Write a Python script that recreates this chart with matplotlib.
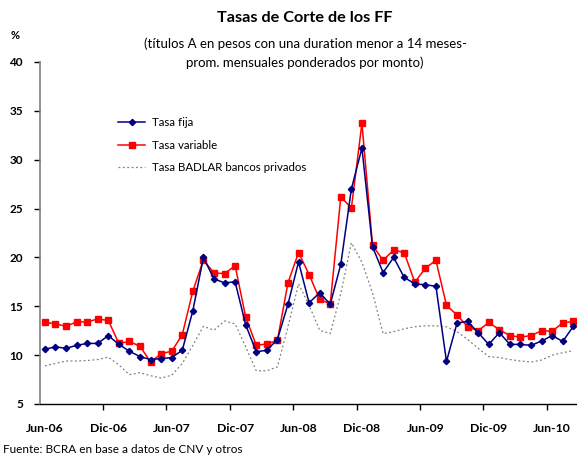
import numpy as np
import matplotlib.pyplot as plt

plt.rcParams['font.family'] = ['Lato', 'DejaVu Sans']

# meses Jun-06 .. Ago-10
tick_labels = ["Jun-06", "Dic-06", "Jun-07", "Dic-07", "Jun-08",
               "Dic-08", "Jun-09", "Dic-09", "Jun-10"]

tasa_fija = [10.6, 10.85, 10.7, 11.0, 11.2, 11.2, 12.0, 11.1, 10.4, 9.85,
             9.55, 9.65, 9.75, 10.5, 14.55, 20.0, 17.8, 17.4, 17.5, 13.1,
             10.35, 10.5, 11.6, 15.2, 19.55, 15.35, 16.4, 15.2, 19.3, 27.0,
             31.2, 21.1, 18.45, 20.0, 17.95, 17.3, 17.2, 17.05, 9.35, 13.3,
             13.45, 12.3, 11.1, 12.3, 11.1, 11.1, 11.0, 11.45, 12.0, 11.4,
             12.95]

tasa_variable = [13.35, 13.2, 12.95, 13.4, 13.4, 13.7, 13.55, 11.2, 11.4, 10.9,
                 9.3, 10.15, 10.4, 12.1, 16.55, 19.75, 18.4, 18.35, 19.15, 13.9,
                 11.0, 11.15, 11.5, 17.4, 20.5, 18.25, 15.7, 15.25, 26.2, 25.05,
                 33.75, 21.25, 19.7, 20.75, 20.5, 17.45, 18.9, 19.7, 15.1, 14.1,
                 12.9, 12.5, 13.35, 12.6, 12.0, 11.85, 12.0, 12.5, 12.45, 13.3,
                 13.45]

badlar = [8.9, 9.15, 9.4, 9.4, 9.45, 9.55, 9.8, 9.0, 8.0, 8.2,
          7.9, 7.65, 7.95, 9.15, 11.0, 12.95, 12.55, 13.5, 13.2, 10.85,
          8.4, 8.4, 8.8, 12.9, 17.3, 15.1, 12.55, 12.2, 16.3, 21.5,
          19.5, 16.4, 12.2, 12.4, 12.7, 12.9, 13.0, 13.0, 12.9, 12.4,
          11.6, 10.7, 9.85, 9.75, 9.55, 9.4, 9.3, 9.5, 10.0, 10.25,
          10.45]

x = np.arange(len(tasa_fija))

fig = plt.figure(figsize=(5.77, 4.55), dpi=100)
ax = fig.add_axes([39.6 / 577, 1 - 404 / 455, 539 / 577, 342 / 455])

ax.plot(x, tasa_fija, color='#000080', lw=1.1, marker='D', ms=3.2,
        label='Tasa fija', zorder=4)
ax.plot(x, tasa_variable, color='#FF0000', lw=1.1, marker='s', ms=5,
        label='Tasa variable', zorder=3)
ax.plot(x, badlar, color='#808080', lw=0.9, ls=(0, (1.5, 2)),
        label='Tasa BADLAR bancos privados', zorder=2)

ax.set_xlim(-0.5, 50.5)
ax.set_ylim(5, 40)
ax.set_yticks(np.arange(5, 41, 5))
ax.set_yticklabels([str(v) for v in range(5, 41, 5)], fontweight='bold', fontsize=8.5)

ax.set_xticks(np.arange(5.5, 48, 6))
ax.set_xticklabels([])
ax.set_xticks(np.arange(0, 49, 6), minor=True)
ax.set_xticklabels(tick_labels, minor=True, fontweight='bold', fontsize=8.8)
ax.tick_params(axis='x', which='minor', length=0, pad=14)
ax.tick_params(axis='x', which='major', length=4, width=1, direction='out')
ax.tick_params(axis='y', length=4, width=1, direction='out', pad=8)

for s in ['top', 'right']:
    ax.spines[s].set_visible(False)
ax.spines['left'].set_color('#808080')
ax.spines['left'].set_linewidth(1.2)
ax.spines['bottom'].set_color('black')
ax.spines['bottom'].set_linewidth(1.0)

leg = ax.legend(loc='upper left', bbox_to_anchor=(0.145, 0.838), frameon=False,
                fontsize=8.3, handlelength=2.4, handletextpad=0.6,
                labelspacing=1.0, borderpad=0, borderaxespad=0)

fig.text(0.529, 0.960, 'Tasas de Corte de los FF', ha='center', va='center',
         fontsize=11.7, fontweight='bold')
fig.text(0.529, 0.903, '(títulos A en pesos con una duration menor a 14 meses-',
         ha='center', va='center', fontsize=9.5)
fig.text(0.529, 0.862, 'prom. mensuales ponderados por monto)',
         ha='center', va='center', fontsize=9.5)
fig.text(0.026, 0.923, '%', ha='center', va='center', fontsize=8, fontweight='bold')
fig.text(0.005, 0.013, 'Fuente: BCRA en base a datos de CNV y otros',
         ha='left', va='center', fontsize=8.5)

fig.savefig('out.png', dpi=100)
